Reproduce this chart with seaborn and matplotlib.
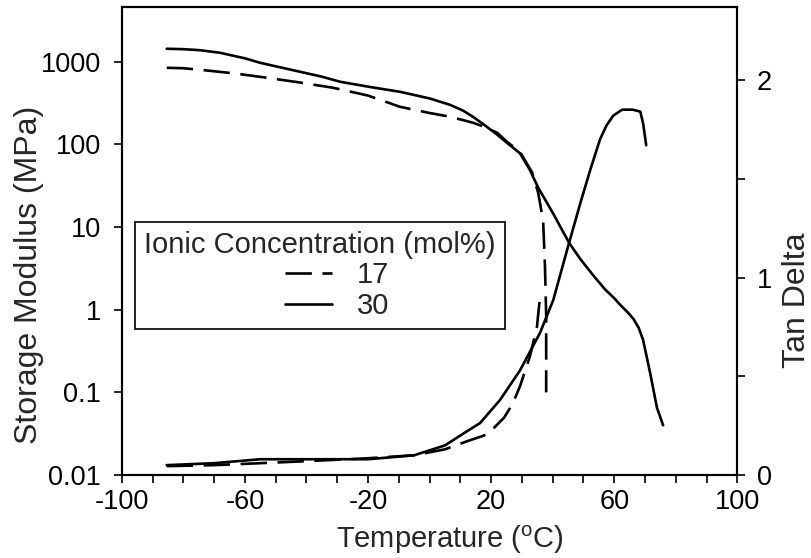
import numpy as np
import pandas as pd
import matplotlib
matplotlib.use("Agg")
import matplotlib.pyplot as plt
from matplotlib.lines import Line2D
from matplotlib.legend_handler import HandlerLine2D
from matplotlib.ticker import FixedLocator, NullLocator, NullFormatter
import seaborn as sns

# ---------------- data ----------------
# Storage modulus (MPa), 30 mol% (solid)
sm30_T = [-85.4, -80.0, -74.6, -68.1, -60.0, -55.1, -45.0, -35.0, -29.1, -20.0,
          -9.6, 0.0, 6.7, 11.0, 14.1, 18.0, 22.0, 25.1, 29.4, 32.5, 35.3, 40.2,
          45.4, 49.0, 53.2, 57.1, 60.0, 62.0, 64.5, 66.2, 68.0, 69.4, 71.7, 73.9, 75.9]
sm30_E = [1436, 1420, 1380, 1285, 1100, 973, 800, 660, 573, 500,
          433, 360, 301, 255, 216, 170, 131, 105, 78, 50, 30, 14.5,
          6.4, 4.1, 2.6, 1.75, 1.38, 1.14, 0.92, 0.78, 0.60, 0.43, 0.17, 0.065, 0.040]

# Storage modulus (MPa), 17 mol% (dashed)
sm17_T = [-85.4, -80.0, -74.6, -63.0, -52.8, -42.0, -31.4, -20.0, -9.6, 0.0, 6.7,
          14.1, 18.0, 22.0, 25.1, 29.4, 33.3, 35.3, 36.9, 37.5, 37.9, 37.9]
sm17_E = [845, 835, 800, 720, 640, 560, 485, 390, 285, 240, 216,
          183, 162, 138, 108, 81, 46, 26, 12, 3.4, 0.85, 0.10]

# Tan delta, 30 mol% (solid)
td30_T = [-85.4, -70.0, -55.0, -40.0, -20.0, -5.0, 5.0, 12.0, 16.4, 22.9, 29.4,
          35.9, 40.2, 44.7, 49.0, 52.2, 55.4, 57.5, 59.7, 62.6, 66.0, 68.5, 69.4, 70.4]
td30_D = [0.05, 0.06, 0.08, 0.08, 0.08, 0.10, 0.15, 0.22, 0.263, 0.38, 0.53,
          0.72, 0.886, 1.14, 1.377, 1.544, 1.70, 1.77, 1.82, 1.85, 1.85, 1.84, 1.78, 1.67]

# Tan delta, 17 mol% (dashed)
td17_T = [-85.4, -70.0, -55.0, -40.0, -20.0, -5.0, 5.0, 12.0, 17.7, 21.0, 24.2,
          27.0, 29.4, 32.6, 34.9, 36.0]
td17_D = [0.045, 0.05, 0.06, 0.07, 0.085, 0.10, 0.13, 0.17, 0.20, 0.24, 0.29,
          0.36, 0.45, 0.60, 0.75, 0.92]

legend_title = "Ionic Concentration (mol%)"
series_labels = ["17", "30"]
x_ticks = [-100, -60, -20, 20, 60, 100]
y_ticks = [0.01, 0.1, 1, 10, 100, 1000]
y_tick_labels = ["0.01", "0.1", "1", "10", "100", "1000"]
y2_ticks = [0, 1, 2]

# ---------------- style ----------------
sns.set_style("ticks")
plt.rcParams["font.family"] = ["Liberation Sans", "DejaVu Sans"]

fig = plt.figure(figsize=(8.12, 5.58), dpi=100)
ax = fig.add_axes([0.150, 0.1487, 0.758, 0.8388])
ax2 = ax.twinx()

lw = 1.9
dash = (10, 4)

df_sm30 = pd.DataFrame({"T": sm30_T, "v": sm30_E})
df_sm17 = pd.DataFrame({"T": sm17_T, "v": sm17_E})
df_td30 = pd.DataFrame({"T": td30_T, "v": td30_D})
df_td17 = pd.DataFrame({"T": td17_T, "v": td17_D})

sns.lineplot(data=df_sm30, x="T", y="v", ax=ax, color="black", lw=lw,
             sort=False, estimator=None)
sns.lineplot(data=df_sm17, x="T", y="v", ax=ax, color="black", lw=lw,
             sort=False, estimator=None)
ax.lines[-1].set_dashes(dash)
sns.lineplot(data=df_td30, x="T", y="v", ax=ax2, color="black", lw=lw,
             sort=False, estimator=None)
sns.lineplot(data=df_td17, x="T", y="v", ax=ax2, color="black", lw=lw,
             sort=False, estimator=None)
ax2.lines[-1].set_dashes(dash)
for ln in ax.lines + ax2.lines:
    ln.set_solid_joinstyle("round")
    ln.set_dash_joinstyle("round")

ax.set_yscale("log")
ax.set_xlim(-100, 100)
ax.set_ylim(0.01, 4600)
ax2.set_ylim(0, 2.37)

fs = 19.5
ax.set_xticks(x_ticks)
ax.set_xticklabels([str(t) for t in x_ticks], fontsize=fs)
ax.xaxis.set_minor_locator(FixedLocator(list(range(-100, 101, 10))))
ax.yaxis.set_major_locator(FixedLocator(y_ticks))
ax.set_yticklabels(y_tick_labels, fontsize=fs)
ax.yaxis.set_minor_locator(NullLocator())
ax.yaxis.set_minor_formatter(NullFormatter())
ax2.set_yticks(y2_ticks)
ax2.set_yticklabels([str(t) for t in y2_ticks], fontsize=fs)
ax2.yaxis.set_minor_locator(FixedLocator([0.5, 1.5]))

for a in (ax, ax2):
    a.tick_params(which="both", direction="out", length=6, width=1.2,
                  color="black", labelcolor="black")
    for s in a.spines.values():
        s.set_visible(True)
        s.set_color("black")
        s.set_linewidth(1.5)
ax.tick_params(axis="x", which="both", pad=4)
ax.tick_params(axis="y", which="both", pad=9)
ax2.tick_params(axis="y", which="both", pad=8)

ax.set_xlabel("Temperature ($^\\mathregular{o}$C)", fontsize=21)
ax.xaxis.set_label_coords(0.533, -0.103)
ax.set_ylabel("Storage Modulus (MPa)", fontsize=23)
ax.yaxis.set_label_coords(-0.127, 0.427)
ax2.set_ylabel("Tan Delta", fontsize=23)
ax2.yaxis.set_label_coords(1.073, 0.374)

handles = [Line2D([], [], color="black", lw=lw, dashes=dash),
           Line2D([], [], color="black", lw=lw)]
leg = ax.legend(handles, series_labels, title=legend_title, loc="upper left",
                bbox_to_anchor=(0.021, 0.541), fontsize=21, title_fontsize=21,
                frameon=True, fancybox=False, framealpha=1, edgecolor="black",
                handlelength=2.8, handletextpad=0.85, labelspacing=0.08,
                borderpad=0.32, borderaxespad=0,
                handler_map={Line2D: HandlerLine2D(xpad=1.17)})
leg.get_frame().set_linewidth(1.2)

fig.savefig("out.png", dpi=100)
